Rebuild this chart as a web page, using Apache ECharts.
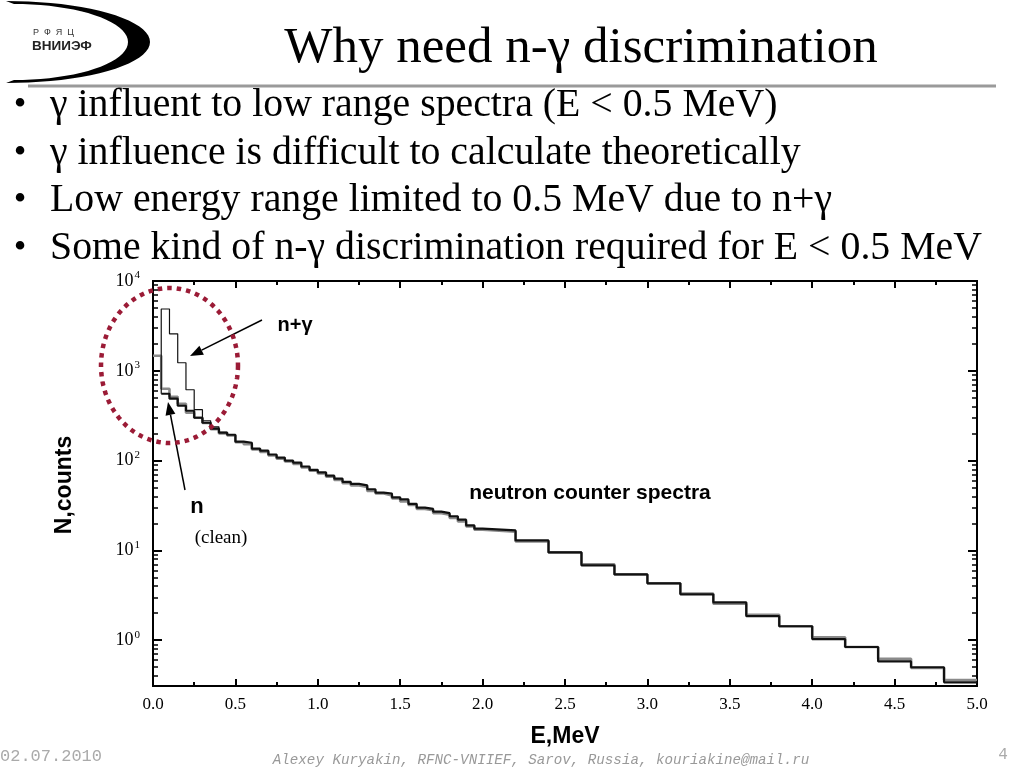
<!DOCTYPE html>
<html>
<head>
<meta charset="utf-8">
<script src="https://cdn.jsdelivr.net/npm/echarts@6/dist/echarts.min.js"></script>
<style>
html,body{margin:0;padding:0;background:#fff;}
#main{width:1024px;height:768px;}
</style>
</head>
<body>
<div id="main"></div>
<script>
// bin edges, MeV (0.05 wide up to 2 MeV, then 0.2)
let edges = [0.00,0.05,0.10,0.15,0.20,0.25,0.30,0.35,0.40,0.45,
             0.50,0.55,0.60,0.65,0.70,0.75,0.80,0.85,0.90,0.95,
             1.00,1.05,1.10,1.15,1.20,1.25,1.30,1.35,1.40,1.45,
             1.50,1.55,1.60,1.65,1.70,1.75,1.80,1.85,1.90,1.95,
             2.0,2.2,2.4,2.6,2.8,3.0,3.2,3.4,3.6,3.8,4.0,4.2,4.4,4.6,4.8,5.0];

// n (clean), black thick
let nCounts = [null,555,489,408,359,300,264,227,205,194,
               163,158,136,129,117,108,100,95,86,79,
               74,68,63,58,55,53,48,44,43,39,
               37,33,30,29,27,26,24,22,19,17.5,
               16.7,12.9,9.5,6.8,5.4,4.3,3.24,2.64,1.85,1.43,1.03,0.84,0.58,0.50,0.34];

// second (grey) spectrum
let greyCounts = [1470,631,514,430,341,300,262,224,200,190,
                  160,152,133,125,114,105,98,92,84,77,
                  72,66,61,56,53,51,46,43,41,38,
                  35,32,29,28,26,25,23,21,18.5,17,
                  16.2,12.6,9.5,7.0,5.4,4.3,3.3,2.55,1.92,1.43,1.08,0.84,0.62,0.49,0.36];

// n+gamma, thin black, only low energy part
let gammaCounts = [null,4880,2580,1230,615,369,278,238,207];

let decades = [0,1,2,3,4];

function steps(counts){
    let d = [], last = -1;
    counts.forEach((v,i)=>{
        if(v==null) return;
        d.push([edges[i], Math.log10(v)]);
        last = i;
    });
    d.push([edges[last+1], Math.log10(counts[last])]);
    return d;
}

let minorLogs = (function(){
    let arr = [];
    for(let n=-1;n<=3;n++){
        for(let k=2;k<=9;k++){
            let l = Math.log10(k*Math.pow(10,n));
            if(l>-0.51 && l<4) arr.push(l);
        }
    }
    return arr;
})();

let gammaData = steps(gammaCounts);
gammaData.unshift([edges[1], Math.log10(nCounts[1])]);

function arrow(x1,y1,x2,y2){
    let a = Math.atan2(y2-y1,x2-x1), L = 13, W = 5;
    let bx = x2 - L*Math.cos(a), by = y2 - L*Math.sin(a);
    let px = -Math.sin(a)*W, py = Math.cos(a)*W;
    return [
        {type:'line',shape:{x1:x1,y1:y1,x2:bx,y2:by},style:{stroke:'#000',lineWidth:1.5},z:10},
        {type:'polygon',shape:{points:[[x2,y2],[bx+px,by+py],[bx-px,by-py]]},style:{fill:'#000'},z:10}
    ];
}

// outline points of an ellipse arc
function arc(cx,cy,rx,ry,a0,a1,n){
    let p = [];
    for(let i=0;i<=n;i++){
        let t = a0+(a1-a0)*i/n;
        p.push([cx+rx*Math.cos(t), cy+ry*Math.sin(t)]);
    }
    return p;
}

let serif = '"Liberation Serif","DejaVu Serif",serif';
let sans = '"Liberation Sans",Arial,sans-serif';
let mono = '"Liberation Mono","DejaVu Sans Mono",monospace';

let bullets = [
    'γ influent to low range spectra (E < 0.5 MeV)',
    'γ influence is difficult to calculate theoretically',
    'Low energy range limited to 0.5 MeV due to n+γ',
    'Some kind of n-γ discrimination required for E < 0.5 MeV'
];

let myChart = echarts.init(document.getElementById('main'));

let yBase = {
    type:'value', min:-0.51, max:4,
    splitLine:{show:false},
    axisLine:{show:true,onZero:false,lineStyle:{color:'#000',width:2}},
};

let crescent = arc(6,42,144,41,-Math.PI/2,Math.PI/2,40)
    .concat(arc(14,42,114,38,Math.PI/2,-Math.PI/2,40));

let graphic = [
    // logo
    {type:'polygon',shape:{points:crescent},style:{fill:'#000'}},
    {type:'text',x:33,y:28,style:{text:'Р  Ф  Я  Ц',font:'9px '+sans,fill:'#333'}},
    {type:'text',x:32,y:39,style:{text:'ВНИИЭФ',font:'bold 13.5px '+sans,fill:'#222'}},
    // title
    {type:'text',x:581,y:49,style:{text:'Why need n-γ discrimination',font:'51px '+serif,fill:'#000',textAlign:'center',textVerticalAlign:'middle'}},
    {type:'rect',shape:{x:28,y:84.5,width:968,height:3},style:{fill:'#9a9a9a'}},
    // footer
    {type:'text',x:0,y:756,style:{text:'02.07.2010',font:'17px '+mono,fill:'#aaa',textVerticalAlign:'middle'}},
    {type:'text',x:541,y:760,style:{text:'Alexey Kuryakin, RFNC-VNIIEF, Sarov, Russia, kouriakine@mail.ru',font:'italic 14.2px '+mono,fill:'#999',textAlign:'center',textVerticalAlign:'middle'}},
    {type:'text',x:1003,y:755,style:{text:'4',font:'16px '+mono,fill:'#aaa',textAlign:'center',textVerticalAlign:'middle'}},
    // axis names
    {type:'text',x:565,y:737,style:{text:'E,MeV',font:'bold 23px '+sans,fill:'#000',textAlign:'center',textVerticalAlign:'middle'}},
    {type:'text',x:65,y:485,rotation:Math.PI/2,style:{text:'N,counts',font:'bold 23px '+sans,fill:'#000',textAlign:'center',textVerticalAlign:'middle'}},
    // annotations
    {type:'text',x:590,y:493,style:{text:'neutron counter spectra',font:'bold 21px '+sans,fill:'#000',textAlign:'center',textVerticalAlign:'middle'},z:10},
    {type:'text',x:295,y:325,style:{text:'n+γ',font:'bold 20px '+sans,fill:'#000',textAlign:'center',textVerticalAlign:'middle'},z:10},
    {type:'text',x:197,y:507,style:{text:'n',font:'bold 22px '+sans,fill:'#000',textAlign:'center',textVerticalAlign:'middle'},z:10},
    {type:'text',x:221,y:538,style:{text:'(clean)',font:'19px '+serif,fill:'#000',textAlign:'center',textVerticalAlign:'middle'},z:10},
    {type:'polygon',shape:{points:arc(169.5,365.5,68.5,77.5,0,2*Math.PI,120)},style:{fill:'none',stroke:'#9b1b36',lineWidth:4.5,lineDash:[4.5,5]},z:11}
].concat(arrow(262,320,190,356)).concat(arrow(185,490,168,402));

bullets.forEach((t,i)=>{
    let y = 106 + i*47.5;
    graphic.push({type:'text',x:20,y:y,style:{text:'•',font:'36px '+serif,fill:'#000',textAlign:'center',textVerticalAlign:'middle'}});
    graphic.push({type:'text',x:50,y:y,style:{text:t,font:'39.8px '+serif,fill:'#000',textVerticalAlign:'middle'}});
});

myChart.setOption({
    animation:false,
    backgroundColor:'#fff',
    grid:{left:153,right:47,top:281,bottom:82},
    xAxis:[
        {
            type:'value',min:0,max:5,interval:0.5,
            splitLine:{show:false},
            axisLine:{onZero:false,lineStyle:{color:'#000',width:2}},
            axisTick:{inside:true,length:7,lineStyle:{color:'#000',width:2}},
            minorTick:{show:true,splitNumber:2,length:4,lineStyle:{color:'#000',width:2}},
            axisLabel:{color:'#000',fontFamily:serif,fontSize:17,margin:10,formatter:v=>v.toFixed(1)}
        },
        {
            type:'value',min:0,max:5,interval:0.5,position:'top',
            splitLine:{show:false},
            axisLine:{onZero:false,lineStyle:{color:'#000',width:2}},
            axisTick:{inside:true,length:7,lineStyle:{color:'#000',width:2}},
            minorTick:{show:true,splitNumber:2,length:4,lineStyle:{color:'#000',width:2}},
            axisLabel:{show:false}
        }
    ],
    yAxis:[
        Object.assign({},yBase,{
            position:'left',
            axisTick:{inside:true,length:9,customValues:decades,lineStyle:{color:'#000',width:2}},
            axisLabel:{
                customValues:decades,margin:13,
                formatter:v=>'{b|10}{s|'+v+'}',
                rich:{
                    b:{fontFamily:serif,fontSize:18,color:'#000'},
                    s:{fontFamily:serif,fontSize:11,color:'#000',padding:[0,0,11,1]}
                }
            }
        }),
        Object.assign({},yBase,{
            position:'left',
            axisTick:{inside:true,length:5,customValues:minorLogs,lineStyle:{color:'#000',width:1.5}},
            axisLabel:{show:false}
        }),
        Object.assign({},yBase,{
            position:'right',
            axisTick:{inside:true,length:9,customValues:decades,lineStyle:{color:'#000',width:2}},
            axisLabel:{show:false}
        }),
        Object.assign({},yBase,{
            position:'right',
            axisTick:{inside:true,length:5,customValues:minorLogs,lineStyle:{color:'#000',width:1.5}},
            axisLabel:{show:false}
        })
    ],
    graphic:graphic,
    series:[
        {
            name:'grey',type:'line',step:'end',showSymbol:false,
            data:steps(greyCounts),
            lineStyle:{color:'#8a8a8a',width:2.6},
            z:2
        },
        {
            name:'n',type:'line',step:'end',showSymbol:false,
            data:steps(nCounts),
            lineStyle:{color:'#111',width:2.2},
            z:3
        },
        {
            name:'n+γ',type:'line',step:'end',showSymbol:false,
            data:gammaData,
            lineStyle:{color:'#111',width:1.2},
            z:4
        }
    ]
});
</script>
</body>
</html>
